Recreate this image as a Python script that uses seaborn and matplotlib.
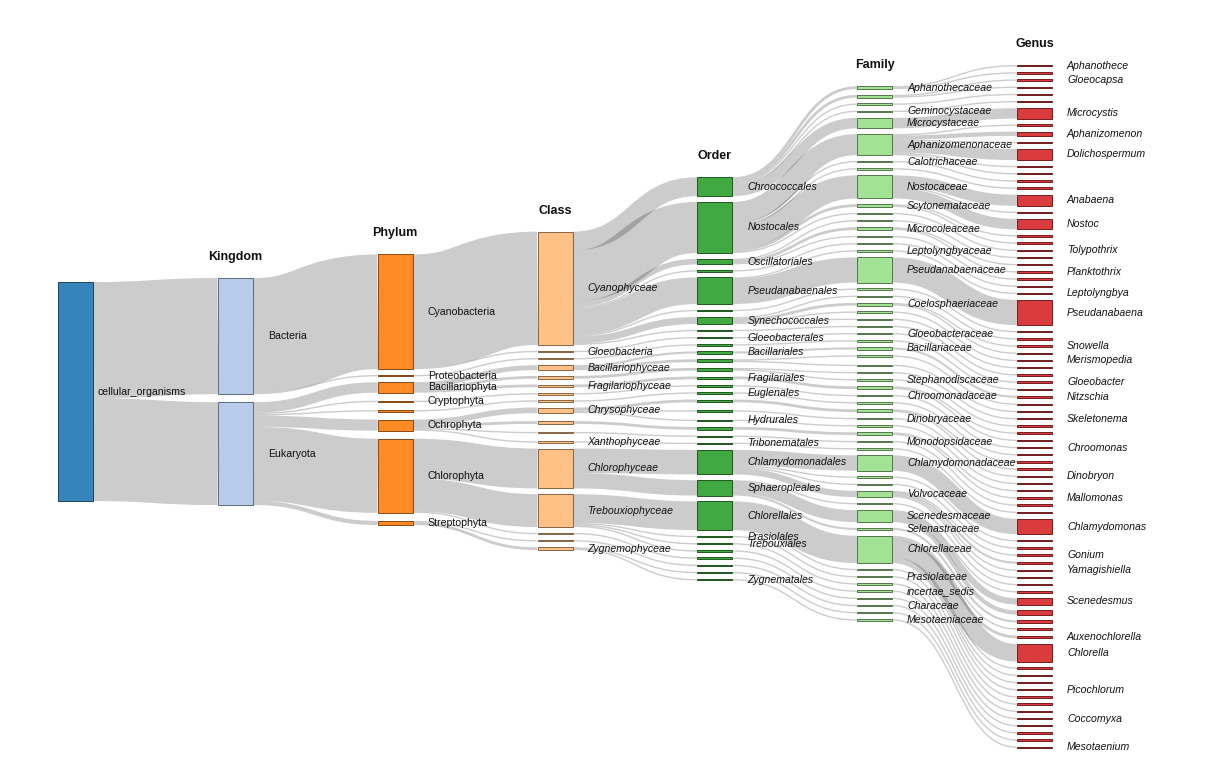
import matplotlib as mpl
import matplotlib.pyplot as plt
from matplotlib.patches import Rectangle, PathPatch
from matplotlib.path import Path
from matplotlib.colors import to_rgb
import seaborn as sns

sns.set_theme(style="white")
plt.rcParams['font.family'] = ['Liberation Sans', 'DejaVu Sans']

##############################################################
# Taxonomy data (one list per rank, parents given by name)
##############################################################

root_name = "cellular_organisms"
rank_titles = ["", "Kingdom", "Phylum", "Class", "Order", "Family", "Genus"]

kingdom_names = ["Bacteria", "Eukaryota"]

phylum_names = ["Cyanobacteria", "Proteobacteria", "Bacillariophyta", "Cryptophyta",
                "Euglenozoa", "Ochrophyta", "Chlorophyta", "Streptophyta"]
phylum_parent = ["Bacteria", "Bacteria", "Eukaryota", "Eukaryota",
                 "Eukaryota", "Eukaryota", "Eukaryota", "Eukaryota"]

class_names = ["Cyanophyceae", "Gloeobacteria", "Betaproteobacteria", "Bacillariophyceae",
               "Mediophyceae", "Fragilariophyceae", "Cryptophyceae", "Euglenophyceae",
               "Chrysophyceae", "Synurophyceae", "Eustigmatophyceae", "Xanthophyceae",
               "Chlorophyceae", "Trebouxiophyceae", "Ulvophyceae", "Charophyceae",
               "Zygnemophyceae"]
class_parent = ["Cyanobacteria", "Cyanobacteria", "Proteobacteria", "Bacillariophyta",
                "Bacillariophyta", "Bacillariophyta", "Cryptophyta", "Euglenozoa",
                "Ochrophyta", "Ochrophyta", "Ochrophyta", "Ochrophyta",
                "Chlorophyta", "Chlorophyta", "Chlorophyta", "Streptophyta",
                "Streptophyta"]

order_names = ["Chroococcales", "Nostocales", "Oscillatoriales", "Spirulinales",
               "Pseudanabaenales", "Chroococcidiopsidales", "Synechococcales",
               "Prochlorotrichales", "Gloeobacterales", "Burkholderiales", "Bacillariales",
               "Naviculales", "Thalassiosirales", "Fragilariales", "Pyrenomonadales",
               "Euglenales", "Ochromonadales", "Chromulinales", "Hydrurales", "Synurales",
               "Eustigmatales", "Tribonematales", "Chlamydomonadales", "Sphaeropleales",
               "Chlorellales", "Prasiolales", "Trebouxiales", "Trebouxiophyceae_is",
               "Ulotrichales", "Charales", "Desmidiales", "Zygnematales"]
order_parent = ["Cyanophyceae"] * 8 + [
    "Gloeobacteria", "Betaproteobacteria", "Bacillariophyceae", "Bacillariophyceae",
    "Mediophyceae", "Fragilariophyceae", "Cryptophyceae", "Euglenophyceae",
    "Chrysophyceae", "Chrysophyceae", "Chrysophyceae", "Synurophyceae",
    "Eustigmatophyceae", "Xanthophyceae", "Chlorophyceae", "Chlorophyceae",
    "Trebouxiophyceae", "Trebouxiophyceae", "Trebouxiophyceae", "Trebouxiophyceae",
    "Ulvophyceae", "Charophyceae", "Zygnemophyceae", "Zygnemophyceae"]

family_names = ["Aphanothecaceae", "Chroococcaceae", "Cyanobacteriaceae", "Geminocystaceae",
                "Microcystaceae", "Aphanizomenonaceae", "Calotrichaceae", "Rivulariaceae",
                "Nostocaceae", "Scytonemataceae", "Tolypotrichaceae", "Oscillatoriaceae",
                "Microcoleaceae", "Gomontiellaceae", "Spirulinaceae", "Leptolyngbyaceae",
                "Pseudanabaenaceae", "Chroococcidiopsidaceae", "Synechococcaceae",
                "Coelosphaeriaceae", "Merismopediaceae", "Prochlorococcaceae",
                "Prochlorotrichaceae", "Gloeobacteraceae", "Comamonadaceae", "Bacillariaceae",
                "Naviculaceae", "Pinnulariaceae", "Skeletonemataceae", "Stephanodiscaceae",
                "Fragilariaceae", "Chroomonadaceae", "Euglenaceae", "Ochromonadaceae",
                "Dinobryaceae", "Hydruraceae", "Mallomonadaceae", "Monodopsidaceae",
                "Tribonemataceae", "Chlamydomonadaceae", "Chlorococcaceae", "Dunaliellaceae",
                "Volvocaceae", "Hydrodictyaceae", "Scenedesmaceae", "Selenastraceae",
                "Chlorellaceae", "Oocystaceae", "Prasiolaceae", "Trebouxiaceae",
                "incertae_sedis", "Ulotrichaceae", "Characeae", "Desmidiaceae",
                "Mesotaeniaceae"]
family_parent = (["Chroococcales"] * 5 + ["Nostocales"] * 6 + ["Oscillatoriales"] * 3 +
                 ["Spirulinales"] + ["Pseudanabaenales"] * 2 + ["Chroococcidiopsidales"] +
                 ["Synechococcales"] * 4 + ["Prochlorotrichales", "Gloeobacterales",
                 "Burkholderiales", "Bacillariales", "Naviculales", "Naviculales",
                 "Thalassiosirales", "Thalassiosirales", "Fragilariales", "Pyrenomonadales",
                 "Euglenales", "Ochromonadales", "Chromulinales", "Hydrurales", "Synurales",
                 "Eustigmatales", "Tribonematales"] + ["Chlamydomonadales"] * 4 +
                 ["Sphaeropleales"] * 3 + ["Chlorellales"] * 2 +
                 ["Prasiolales", "Trebouxiales", "Trebouxiophyceae_is", "Ulotrichales",
                  "Charales", "Desmidiales", "Zygnematales"])

genus_names = ["Aphanothece", "Gloeothece", "Gloeocapsa", "Chroococcus", "Cyanobacterium",
               "Geminocystis", "Microcystis", "Cuspidothrix", "Aphanizomenon", "Chrysosporum",
               "Dolichospermum", "Sphaerospermopsis", "Raphidiopsis", "Calothrix", "Rivularia",
               "Anabaena", "Trichormus", "Nostoc", "Scytonema", "Brasilonema", "Tolypothrix",
               "Oscillatoria", "Limnoraphis", "Planktothrix", "Phormidium", "Spirulina",
               "Leptolyngbya", "Pseudanabaena", "Chroococcidiopsis", "Synechococcus",
               "Snowella", "Woronichinia", "Merismopedia", "Cyanobium", "Prochlorothrix",
               "Gloeobacter", "Limnohabitans", "Nitzschia", "Navicula", "Pinnularia",
               "Skeletonema", "Cyclotella", "Fragilaria", "Asterionella", "Chroomonas",
               "Euglena", "Ochromonas", "Poterioochromonas", "Dinobryon", "Hydrurus",
               "Synura", "Mallomonas", "Nannochloropsis", "Tribonema", "Chlamydomonas",
               "Chlorococcum", "Dunaliella", "Gonium", "Pandorina", "Yamagishiella",
               "Eudorina", "Pediastrum", "Desmodesmus", "Scenedesmus", "Tetradesmus",
               "Monoraphidium", "Dictyosphaerium", "Auxenochlorella", "Chlorella",
               "Micractinium", "Parachlorella", "Heynigia", "Picochlorum", "Oocystis",
               "Prasiola", "Trebouxia", "Coccomyxa", "Ulothrix", "Chara", "Cosmarium",
               "Mesotaenium"]
genus_parent = (["Aphanothecaceae"] * 2 + ["Chroococcaceae"] * 2 +
                ["Cyanobacteriaceae", "Geminocystaceae", "Microcystaceae"] +
                ["Aphanizomenonaceae"] * 6 + ["Calotrichaceae", "Rivulariaceae"] +
                ["Nostocaceae"] * 3 + ["Scytonemataceae"] * 2 +
                ["Tolypotrichaceae", "Oscillatoriaceae", "Microcoleaceae", "Microcoleaceae",
                 "Gomontiellaceae", "Spirulinaceae", "Leptolyngbyaceae", "Pseudanabaenaceae",
                 "Chroococcidiopsidaceae", "Synechococcaceae", "Coelosphaeriaceae",
                 "Coelosphaeriaceae", "Merismopediaceae", "Prochlorococcaceae",
                 "Prochlorotrichaceae", "Gloeobacteraceae", "Comamonadaceae", "Bacillariaceae",
                 "Naviculaceae", "Pinnulariaceae", "Skeletonemataceae", "Stephanodiscaceae",
                 "Fragilariaceae", "Fragilariaceae", "Chroomonadaceae", "Euglenaceae",
                 "Ochromonadaceae", "Ochromonadaceae", "Dinobryaceae", "Hydruraceae",
                 "Mallomonadaceae", "Mallomonadaceae", "Monodopsidaceae", "Tribonemataceae",
                 "Chlamydomonadaceae", "Chlorococcaceae", "Dunaliellaceae"] +
                ["Volvocaceae"] * 4 + ["Hydrodictyaceae"] + ["Scenedesmaceae"] * 3 +
                ["Selenastraceae"] + ["Chlorellaceae"] * 7 +
                ["Oocystaceae", "Prasiolaceae", "Trebouxiaceae", "incertae_sedis",
                 "Ulotrichaceae", "Characeae", "Desmidiaceae", "Mesotaeniaceae"])
genus_values = [2, 2, 2, 2, 2, 2, 15, 2, 6, 2,
                16, 2, 2, 2, 2, 16, 2, 15, 2, 2,
                2, 2, 2, 2, 2, 2, 2, 36, 2, 2,
                2, 2, 2, 2, 2, 2, 2, 3, 2, 2,
                2, 2, 2, 2, 2, 2, 2, 2, 2, 2,
                2, 2, 2, 2, 22, 2, 2, 2, 3, 2,
                2, 2, 2, 9, 6, 3, 2, 4, 25, 2,
                2, 2, 2, 2, 2, 2, 2, 2, 2, 2,
                2]

# labels that are written next to their node
labelled_taxa = [
    "cellular_organisms", "Bacteria", "Eukaryota",
    "Cyanobacteria", "Proteobacteria", "Bacillariophyta", "Cryptophyta", "Ochrophyta",
    "Chlorophyta", "Streptophyta",
    "Cyanophyceae", "Gloeobacteria", "Bacillariophyceae", "Fragilariophyceae",
    "Chrysophyceae", "Xanthophyceae", "Chlorophyceae", "Trebouxiophyceae", "Zygnemophyceae",
    "Chroococcales", "Nostocales", "Oscillatoriales", "Pseudanabaenales", "Synechococcales",
    "Gloeobacterales", "Bacillariales", "Fragilariales", "Euglenales", "Hydrurales",
    "Tribonematales", "Chlamydomonadales", "Sphaeropleales", "Chlorellales", "Prasiolales",
    "Trebouxiales", "Zygnematales",
    "Aphanothecaceae", "Geminocystaceae", "Microcystaceae", "Aphanizomenonaceae",
    "Calotrichaceae", "Nostocaceae", "Scytonemataceae", "Microcoleaceae", "Leptolyngbyaceae",
    "Pseudanabaenaceae", "Coelosphaeriaceae", "Gloeobacteraceae", "Bacillariaceae",
    "Stephanodiscaceae", "Chroomonadaceae", "Dinobryaceae", "Monodopsidaceae",
    "Chlamydomonadaceae", "Volvocaceae", "Scenedesmaceae", "Selenastraceae", "Chlorellaceae",
    "Prasiolaceae", "incertae_sedis", "Characeae", "Mesotaeniaceae",
    "Aphanothece", "Gloeocapsa", "Microcystis", "Aphanizomenon", "Dolichospermum",
    "Anabaena", "Nostoc", "Tolypothrix", "Planktothrix", "Leptolyngbya", "Pseudanabaena",
    "Snowella", "Merismopedia", "Gloeobacter", "Nitzschia", "Skeletonema", "Chroomonas",
    "Dinobryon", "Mallomonas", "Chlamydomonas", "Gonium", "Yamagishiella", "Scenedesmus",
    "Auxenochlorella", "Chlorella", "Picochlorum", "Coccomyxa", "Mesotaenium"]

##############################################################
# Build the node tree
##############################################################

col_names = [[root_name], kingdom_names, phylum_names, class_names,
             order_names, family_names, genus_names]
col_parents = [[None], [root_name] * len(kingdom_names), phylum_parent, class_parent,
               order_parent, family_parent, genus_parent]

columns = []
for c, (names, parents) in enumerate(zip(col_names, col_parents)):
    col = []
    for name, par in zip(names, parents):
        node = {"name": name, "col": c, "value": 0.0, "children": [], "parent": None}
        if par is not None:
            parent = next(p for p in columns[c - 1] if p["name"] == par)
            node["parent"] = parent
            parent["children"].append(node)
        col.append(node)
    columns.append(col)

for node, v in zip(columns[-1], genus_values):
    node["value"] = v
for col in reversed(columns[:-1]):
    for node in col:
        node["value"] = sum(ch["value"] for ch in node["children"])

##############################################################
# Sankey layout (d3-sankey steps, nodes kept in taxonomy order)
##############################################################

W, H = 1217, 782
node_w = 35
x_left, x_right = 58, 1052
top, bottom = 65, 748
py = 5.8        # gap between stacked nodes
spread = 8      # gap used when fanning children out from a parent
iterations = 1
kx = (x_right - x_left - node_w) / (len(columns) - 1)

ky = min((bottom - top - (len(col) - 1) * py) / sum(n["value"] for n in col)
         for col in columns)

for c, col in enumerate(columns):
    y = top
    for node in col:
        node["x"] = x_left + c * kx
        node["w"] = node["value"] * ky
        node["y0"] = y
        y = y + node["w"] + py
    extra = (bottom - y + py) / (len(col) + 1)
    for i, node in enumerate(col):
        node["y0"] += extra * (i + 1)


def collide(col, a):
    def down(y, i):
        for node in col[i:]:
            d = (y - node["y0"]) * a
            if d > 1e-6:
                node["y0"] += d
            y = node["y0"] + node["w"] + py

    def up(y, i):
        for node in reversed(col[:i + 1]):
            d = (node["y0"] + node["w"] - y) * a
            if d > 1e-6:
                node["y0"] -= d
            y = node["y0"] - py

    m = len(col) >> 1
    up(col[m]["y0"] - py, m - 1)
    down(col[m]["y0"] + col[m]["w"] + py, m + 1)
    up(bottom, len(col) - 1)
    down(top, 0)


for i in range(iterations):
    alpha = 0.99 ** i
    beta = max(1 - alpha, (i + 1) / iterations)
    # right to left: move parents toward their children
    for c in range(len(columns) - 2, -1, -1):
        col = columns[c]
        for node in col:
            y = w = off = 0
            for ch in node["children"]:
                y += (ch["y0"] - off) * ch["value"]
                w += ch["value"]
                off += ch["w"]
            node["y0"] += (y / w - node["y0"]) * alpha
        collide(col, beta)
    # left to right: move children toward their parent
    for c in range(1, len(columns)):
        col = columns[c]
        for node in col:
            par = node["parent"]
            y = par["y0"] - (len(par["children"]) - 1) * spread / 2
            for sib in par["children"]:
                if sib is node:
                    break
                y += sib["w"] + spread
            node["y0"] += (y - node["y0"]) * alpha
        collide(col, beta)

##############################################################
# Draw
##############################################################

palette = sns.color_palette("tab20")

fig = plt.figure(figsize=(W / 100, H / 100), dpi=100)
ax = fig.add_axes([0, 0, 1, 1])
ax.set_xlim(0, W)
ax.set_ylim(H, 0)
ax.axis("off")

px = 72 / 100  # points per pixel

# links, drawn as thick bezier strokes like the svg original
for col in columns[:-1]:
    for node in col:
        sy = node["y0"]
        for ch in node["children"]:
            x0 = node["x"] + node_w
            x1 = ch["x"]
            xm = (x0 + x1) / 2
            y0 = sy + ch["w"] / 2
            y1 = ch["y0"] + ch["w"] / 2
            sy += ch["w"]
            path = Path([(x0, y0), (xm, y0), (xm, y1), (x1, y1)],
                        [Path.MOVETO, Path.CURVE4, Path.CURVE4, Path.CURVE4])
            ax.add_patch(PathPatch(path, facecolor="none", edgecolor="black", alpha=0.2,
                                   lw=max(1.0, ch["w"]) * px, capstyle="butt"))

# nodes
for c, col in enumerate(columns):
    fill = palette[c]
    edge = tuple(v * 0.49 for v in to_rgb(fill))
    for node in col:
        ax.add_patch(Rectangle((node["x"], node["y0"]), node_w, node["w"],
                               facecolor=fill, edgecolor=edge, lw=px, alpha=0.9))

# labels and rank titles
for c, col in enumerate(columns):
    style = "italic" if c >= 3 else "normal"
    offset = 4 if c == 0 else 15
    for node in col:
        if node["name"] in labelled_taxa:
            ax.text(node["x"] + node_w + offset, node["y0"] + node["w"] / 2, node["name"],
                    fontsize=7.6, style=style, ha="left", va="center", color="#111111")
    if rank_titles[c]:
        ax.text(col[0]["x"] + node_w / 2, col[0]["y0"] - 21, rank_titles[c],
                fontsize=9, fontweight="bold", ha="center", va="center", color="#111111")

fig.savefig("out.png", dpi=100)
